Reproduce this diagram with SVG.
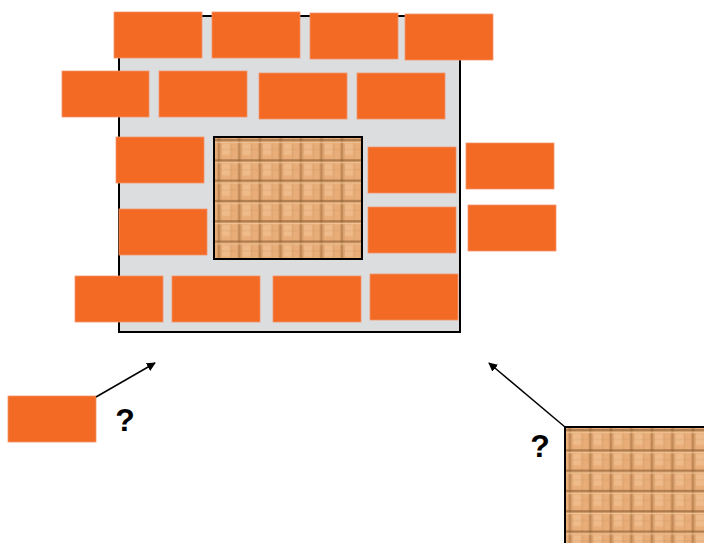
<svg xmlns="http://www.w3.org/2000/svg" xmlns:xlink="http://www.w3.org/1999/xlink" width="704" height="543" viewBox="0 0 704 543">
  <style>
    .brick { fill: #f26a23; stroke: #f5956a; stroke-width: 0.8; }
    .tile { stroke: #000; stroke-width: 2; }
    .q { font-family: "Liberation Sans", Arial, sans-serif; font-weight: bold; font-size: 32px; fill: #000; }
    .conn { stroke: #000; stroke-width: 1.5; fill: none; marker-end: url(#arrow); }
  </style>
  <defs>
    <marker id="arrow" viewBox="0 0 10 10" refX="9" refY="5" markerWidth="9" markerHeight="9" markerUnits="userSpaceOnUse" orient="auto">
      <path d="M0,0 L10,5 L0,10 z" fill="#000"/>
    </marker>
    <pattern id="woodA" patternUnits="userSpaceOnUse" x="214" y="137" width="20.5" height="20.3">
      <rect width="20.5" height="20.3" fill="#e8ad78"/>
      <rect x="8" y="7" width="8" height="11" fill="#f3c496" opacity="0.6"/>
      <rect x="3.5" y="0" width="2.5" height="20.3" fill="#9e6a3c" opacity="0.55"/>
      <rect x="6" y="0" width="1.5" height="20.3" fill="#c99461" opacity="0.5"/>
      <rect x="16.5" y="0" width="1.5" height="20.3" fill="#d4a06c" opacity="0.5"/>
      <rect x="0" y="2" width="20.5" height="2.5" fill="#8a5a2e" opacity="0.6"/>
      <rect x="0" y="4.5" width="20.5" height="1.5" fill="#f6cc9f" opacity="0.7"/>
      <rect x="0" y="12" width="20.5" height="1" fill="#c99563" opacity="0.35"/>
    </pattern>
    <pattern id="woodB" href="#woodA" xlink:href="#woodA" x="565" y="427"/>
  </defs>

  <g id="wall-panel">
    <rect x="119" y="16" width="341" height="316" fill="#dcdddf" stroke="#000" stroke-width="2"/>
  </g>

  <g id="bricks">
    <g id="brick-1"><rect class="brick" x="114" y="12" width="88" height="46"/></g>
    <g id="brick-2"><rect class="brick" x="212" y="12" width="88" height="46"/></g>
    <g id="brick-3"><rect class="brick" x="310" y="13" width="88" height="46"/></g>
    <g id="brick-4"><rect class="brick" x="405" y="14" width="88" height="46"/></g>
    <g id="brick-5"><rect class="brick" x="62" y="71" width="87" height="46"/></g>
    <g id="brick-6"><rect class="brick" x="159" y="71" width="88" height="46"/></g>
    <g id="brick-7"><rect class="brick" x="259" y="73" width="88" height="46"/></g>
    <g id="brick-8"><rect class="brick" x="357" y="73" width="88" height="46"/></g>
    <g id="brick-9"><rect class="brick" x="116" y="137" width="88" height="46"/></g>
    <g id="brick-10"><rect class="brick" x="368" y="147" width="88" height="46"/></g>
    <g id="brick-11"><rect class="brick" x="466" y="143" width="88" height="46"/></g>
    <g id="brick-12"><rect class="brick" x="119" y="209" width="88" height="46"/></g>
    <g id="brick-13"><rect class="brick" x="368" y="207" width="88" height="46"/></g>
    <g id="brick-14"><rect class="brick" x="468" y="205" width="88" height="46"/></g>
    <g id="brick-15"><rect class="brick" x="75" y="276" width="88" height="46"/></g>
    <g id="brick-16"><rect class="brick" x="172" y="276" width="88" height="46"/></g>
    <g id="brick-17"><rect class="brick" x="273" y="276" width="88" height="46"/></g>
    <g id="brick-18"><rect class="brick" x="370" y="274" width="88" height="46"/></g>
  </g>

  <g id="tile-in-wall">
    <rect class="tile" x="214" y="137" width="148" height="122" fill="url(#woodA)"/>
  </g>

  <g id="loose-brick">
    <rect class="brick" x="8" y="396" width="88" height="46"/>
  </g>

  <g id="loose-tile">
    <rect class="tile" x="565" y="427" width="145" height="125" fill="url(#woodB)"/>
  </g>

  <g id="connectors">
    <line class="conn" x1="96" y1="397" x2="155" y2="363"/>
    <line class="conn" x1="565" y1="427" x2="489" y2="363"/>
  </g>

  <g id="labels">
    <text class="q" x="125" y="431" text-anchor="middle">?</text>
    <text class="q" x="540" y="457" text-anchor="middle">?</text>
  </g>
</svg>
